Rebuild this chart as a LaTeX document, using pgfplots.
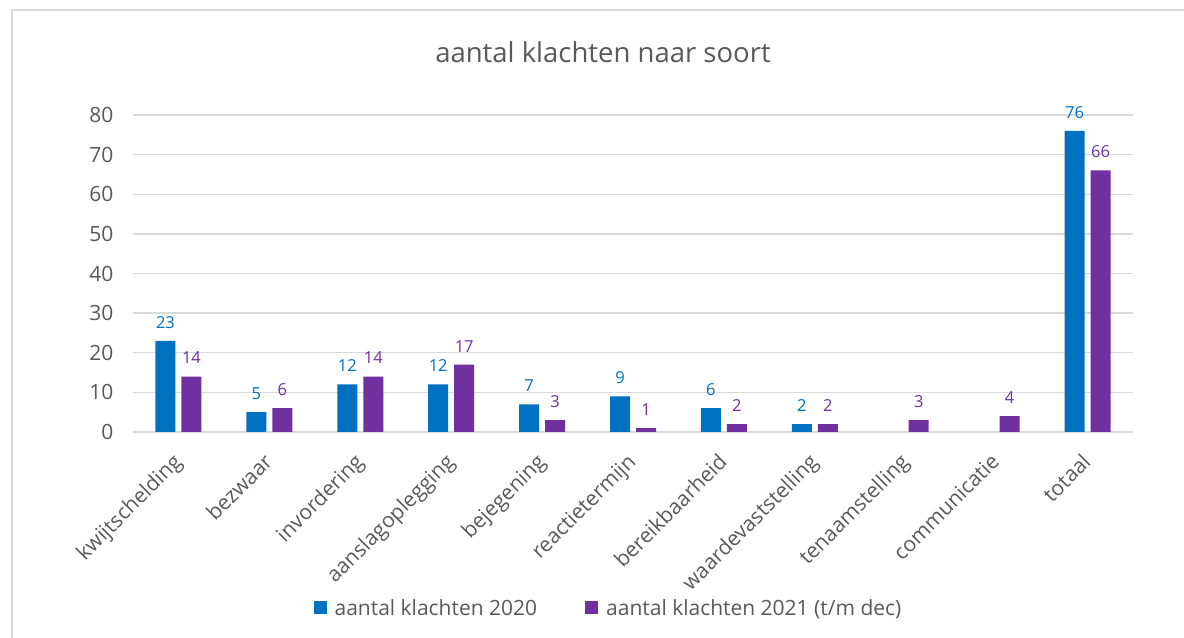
\documentclass[border=0pt]{standalone}
\usepackage{pgfplots}
\pgfplotsset{compat=1.18}
\usepackage{fontspec}
\setmainfont{Open Sans}
\definecolor{cblue}{HTML}{0070C0}
\definecolor{cpurple}{HTML}{7030A0}
\definecolor{ctext}{HTML}{595959}
\definecolor{cgrid}{HTML}{D9D9D9}
\begin{document}
\begin{tikzpicture}[x=1bp,y=1bp]
\useasboundingbox (0,0) rectangle (1184,638);
\draw[cgrid, line width=1.2bp] (12,-10) -- (12,628) -- (1200,628);
\node[text=ctext, font=\fontsize{27.5bp}{32bp}\selectfont] at (603,586) {aantal klachten naar soort};
\begin{axis}[
  at={(133bp,206bp)}, anchor=south west, scale only axis,
  width=1000bp, height=317bp,
  xmin=-0.5, xmax=10.5, ymin=0, ymax=80,
  ytick={0,10,...,80},
  xtick={0,...,10},
  xticklabels={kwijtschelding,bezwaar,invordering,aanslagoplegging,bejegening,reactietermijn,bereikbaarheid,waardevaststelling,tenaamstelling,communicatie,totaal},
  axis line style={draw=none},
  major tick length=0pt,
  ymajorgrids, grid style={cgrid, line width=1.3bp},
  ybar=6bp, bar width=20bp,
  /pgf/number format/assume math mode=true,
  yticklabel style={text=ctext, font=\fontsize{21bp}{25bp}\selectfont, xshift=-16bp},
  xticklabel style={text=ctext, font=\fontsize{21bp}{25bp}\selectfont, xshift=-7bp, yshift=-20bp, rotate=45, anchor=north east, inner sep=0pt},
  nodes near coords,
  every node near coord/.append style={font=\fontsize{16.5bp}{20bp}\selectfont, yshift=9bp},
  legend style={at={(0.4755,-0.555)}, anchor=center, draw=none, fill=none,
    legend columns=2, font=\fontsize{21bp}{25bp}\selectfont, text=ctext,
    /tikz/every even column/.append style={column sep=46bp}},
  legend image code/.code={\fill[#1] (0bp,-6.5bp) rectangle (13bp,6.5bp); \path (19bp,0bp);},
]
\addplot[fill=cblue, draw=none, every node near coord/.append style={text=cblue}] coordinates {
  (0,23) (1,5) (2,12) (3,12) (4,7) (5,9) (6,6) (7,2) (10,76)};
\addplot[fill=cpurple, draw=none, every node near coord/.append style={text=cpurple}] coordinates {
  (0,14) (1,6) (2,14) (3,17) (4,3) (5,1) (6,2) (7,2) (8,3) (9,4) (10,66)};
\legend{aantal klachten 2020, aantal klachten 2021 (t/m dec)}
\end{axis}
\end{tikzpicture}
\end{document}
